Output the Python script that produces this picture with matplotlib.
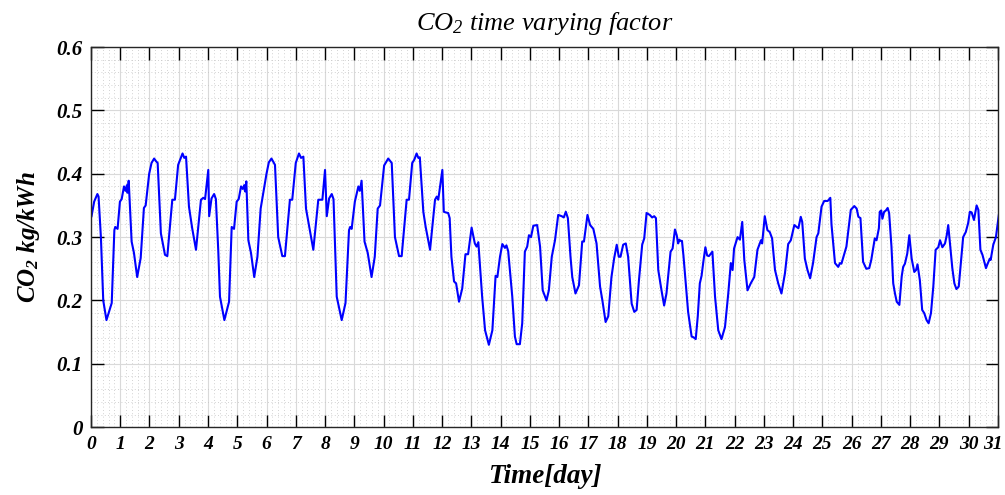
import matplotlib
matplotlib.use("Agg")
from matplotlib import pyplot as plt
from matplotlib.ticker import MultipleLocator
from matplotlib import transforms
import numpy as np

# time in days and CO2 factor in kg/kWh (vertices of the trace)
t_days = [
    0.02, 0.11, 0.22, 0.26, 0.34, 0.42, 0.53, 0.71, 0.80, 0.83, 0.91, 0.99, 1.05, 1.13, 1.18, 1.23, 1.25, 1.29,
    1.39, 1.47, 1.58, 1.70, 1.81, 1.87, 1.99, 2.07, 2.16, 2.22, 2.28, 2.39, 2.53, 2.61, 2.78, 2.87, 2.98, 3.13,
    3.19, 3.25, 3.35, 3.46, 3.59, 3.76, 3.84, 3.90, 4.01, 4.04, 4.12, 4.21, 4.27, 4.35, 4.41, 4.56, 4.72, 4.81,
    4.89, 4.98, 5.05, 5.13, 5.19, 5.24, 5.27, 5.31, 5.38, 5.47, 5.58, 5.69, 5.80, 6.00, 6.08, 6.17, 6.29, 6.40,
    6.54, 6.63, 6.80, 6.88, 7.00, 7.11, 7.18, 7.26, 7.35, 7.46, 7.60, 7.77, 7.91, 8.00, 8.06, 8.14, 8.23, 8.29,
    8.40, 8.57, 8.70, 8.82, 8.86, 8.91, 9.02, 9.14, 9.19, 9.25, 9.35, 9.46, 9.59, 9.70, 9.80, 9.88, 10.02, 10.16,
    10.28, 10.39, 10.53, 10.62, 10.79, 10.87, 10.98, 11.05, 11.13, 11.19, 11.24, 11.36, 11.44, 11.59, 11.76,
    11.82, 11.87, 12.01, 12.06, 12.12, 12.21, 12.26, 12.32, 12.41, 12.48, 12.58, 12.69, 12.80, 12.89, 13.01,
    13.12, 13.18, 13.24, 13.37, 13.47, 13.60, 13.72, 13.83, 13.89, 13.98, 14.06, 14.15, 14.20, 14.26, 14.40,
    14.49, 14.55, 14.66, 14.74, 14.83, 14.91, 14.97, 15.04, 15.12, 15.25, 15.35, 15.44, 15.57, 15.65, 15.75,
    15.86, 15.97, 16.09, 16.16, 16.23, 16.30, 16.39, 16.45, 16.56, 16.68, 16.79, 16.85, 16.97, 17.06, 17.17,
    17.28, 17.40, 17.48, 17.59, 17.68, 17.79, 17.88, 17.97, 18.04, 18.10, 18.19, 18.28, 18.36, 18.48, 18.57,
    18.65, 18.73, 18.84, 18.91, 18.99, 19.10, 19.18, 19.25, 19.31, 19.39, 19.50, 19.59, 19.67, 19.81, 19.88,
    19.96, 20.02, 20.07, 20.11, 20.15, 20.20, 20.25, 20.41, 20.53, 20.59, 20.67, 20.74, 20.81, 20.87, 20.93,
    21.00, 21.06, 21.12, 21.24, 21.33, 21.44, 21.55, 21.67, 21.78, 21.87, 21.93, 21.98, 22.10, 22.18, 22.26,
    22.33, 22.44, 22.55, 22.67, 22.78, 22.90, 22.94, 23.03, 23.12, 23.20, 23.28, 23.38, 23.49, 23.60, 23.72,
    23.83, 23.92, 24.04, 24.12, 24.18, 24.26, 24.31, 24.40, 24.49, 24.58, 24.68, 24.80, 24.86, 24.97, 25.06,
    25.18, 25.27, 25.31, 25.43, 25.54, 25.60, 25.65, 25.82, 25.97, 26.09, 26.17, 26.23, 26.30, 26.39, 26.50,
    26.60, 26.67, 26.79, 26.85, 26.93, 26.96, 27.01, 27.05, 27.11, 27.17, 27.23, 27.28, 27.36, 27.42, 27.48,
    27.54, 27.63, 27.71, 27.76, 27.82, 27.90, 27.97, 28.05, 28.14, 28.20, 28.25, 28.33, 28.41, 28.48, 28.56,
    28.63, 28.71, 28.79, 28.87, 28.96, 29.02, 29.10, 29.19, 29.25, 29.30, 29.36, 29.44, 29.51, 29.58, 29.66,
    29.73, 29.81, 29.90, 29.98, 30.04, 30.10, 30.18, 30.27, 30.33, 30.40, 30.47, 30.59, 30.63, 30.72, 30.75,
    30.84, 30.93, 31.03,
]
co2_factor = [
    0.333, 0.356, 0.368, 0.364, 0.300, 0.200, 0.169, 0.196, 0.311, 0.316, 0.313, 0.356, 0.360, 0.380, 0.373, 0.382, 0.370, 0.389,
    0.293, 0.275, 0.237, 0.267, 0.346, 0.350, 0.400, 0.417, 0.424, 0.420, 0.417, 0.306, 0.272, 0.270, 0.359, 0.359, 0.414, 0.432,
    0.425, 0.427, 0.348, 0.314, 0.280, 0.359, 0.362, 0.360, 0.406, 0.333, 0.361, 0.368, 0.360, 0.280, 0.206, 0.169, 0.198, 0.316,
    0.313, 0.356, 0.360, 0.380, 0.376, 0.382, 0.372, 0.388, 0.295, 0.275, 0.237, 0.269, 0.345, 0.400, 0.418, 0.424, 0.414, 0.300,
    0.270, 0.270, 0.359, 0.359, 0.417, 0.432, 0.425, 0.427, 0.345, 0.316, 0.280, 0.359, 0.359, 0.406, 0.333, 0.361, 0.368, 0.360,
    0.206, 0.169, 0.196, 0.311, 0.316, 0.313, 0.356, 0.380, 0.373, 0.389, 0.293, 0.275, 0.237, 0.269, 0.345, 0.350, 0.413, 0.424,
    0.417, 0.300, 0.270, 0.270, 0.359, 0.359, 0.417, 0.422, 0.432, 0.425, 0.426, 0.340, 0.316, 0.280, 0.359,
    0.364, 0.359, 0.406, 0.340, 0.339, 0.338, 0.330, 0.269, 0.230, 0.227, 0.198, 0.219, 0.273, 0.273, 0.315,
    0.290, 0.285, 0.292, 0.206, 0.153, 0.130, 0.153, 0.239, 0.237, 0.269, 0.289, 0.283, 0.287, 0.278, 0.206,
    0.143, 0.131, 0.131, 0.164, 0.277, 0.285, 0.303, 0.300, 0.318, 0.319, 0.285, 0.216, 0.200, 0.216, 0.269,
    0.295, 0.335, 0.333, 0.331, 0.340, 0.330, 0.269, 0.237, 0.211, 0.224, 0.293, 0.293, 0.335, 0.319, 0.313,
    0.290, 0.222, 0.200, 0.166, 0.175, 0.237, 0.266, 0.288, 0.269, 0.269, 0.288, 0.290, 0.269, 0.195, 0.182,
    0.185, 0.232, 0.288, 0.298, 0.338, 0.335, 0.331, 0.333, 0.330, 0.248, 0.216, 0.192, 0.211, 0.277, 0.282,
    0.312, 0.303, 0.290, 0.296, 0.294, 0.294, 0.271, 0.182, 0.143, 0.142, 0.139, 0.175, 0.227, 0.239, 0.261,
    0.284, 0.271, 0.270, 0.277, 0.206, 0.153, 0.139, 0.158, 0.210, 0.259, 0.248, 0.282, 0.300, 0.296, 0.324,
    0.264, 0.216, 0.227, 0.237, 0.280, 0.295, 0.290, 0.333, 0.311, 0.308, 0.298, 0.248, 0.227, 0.211, 0.243,
    0.289, 0.295, 0.319, 0.316, 0.314, 0.332, 0.324, 0.266, 0.248, 0.235, 0.259, 0.300, 0.306, 0.348, 0.357,
    0.357, 0.362, 0.320, 0.259, 0.253, 0.259, 0.258, 0.285, 0.343, 0.349, 0.345, 0.332, 0.330, 0.261, 0.250,
    0.251, 0.264, 0.298, 0.295, 0.314, 0.340, 0.342, 0.329, 0.340, 0.342, 0.346, 0.338, 0.285, 0.227, 0.211,
    0.198, 0.193, 0.238, 0.253, 0.258, 0.274, 0.303, 0.266, 0.245, 0.248, 0.257, 0.232, 0.185, 0.180, 0.169,
    0.164, 0.180, 0.222, 0.280, 0.284, 0.295, 0.284, 0.290, 0.303, 0.319, 0.290, 0.251, 0.227, 0.218, 0.222,
    0.259, 0.300, 0.308, 0.322, 0.340, 0.339, 0.327, 0.350, 0.343, 0.280, 0.272, 0.251, 0.256, 0.266, 0.264,
    0.288, 0.300, 0.335,
]

x_ticks = np.arange(0, 32, 1)
y_ticks = [0, 0.1, 0.2, 0.3, 0.4, 0.5, 0.6]
y_tick_labels = ['0', '0.1', '0.2', '0.3', '0.4', '0.5', '0.6']

plt.rcParams['font.family'] = ['Liberation Serif', 'DejaVu Serif']
plt.rcParams['mathtext.fontset'] = 'custom'
plt.rcParams['mathtext.rm'] = 'Liberation Serif:italic'
plt.rcParams['mathtext.it'] = 'Liberation Serif:italic'
plt.rcParams['mathtext.bf'] = 'Liberation Serif:italic:bold'

fig = plt.figure(figsize=(10.05, 4.95), dpi=100)
ax = fig.add_axes([0.0905, 0.137, 0.9025, 0.768])

ax.plot(t_days, co2_factor, color='#0000ff', linewidth=1.5)

ax.set_xlim(0, 31)
ax.set_ylim(0, 0.6)
ax.set_xticks(x_ticks)
ax.set_yticks(y_ticks)
ax.set_yticklabels(y_tick_labels)
ax.xaxis.set_minor_locator(MultipleLocator(0.2))
ax.yaxis.set_minor_locator(MultipleLocator(0.02))

ax.grid(which='major', color='#d9d9d9', linewidth=0.8, linestyle='-')
ax.grid(which='minor', color='#c4c4c4', linewidth=0.6, linestyle=(0, (1, 3)))
ax.set_axisbelow(True)

ax.tick_params(which='major', direction='in', length=9, width=1.0,
               top=True, right=True, labelsize=14, pad=6)
ax.tick_params(axis='y', which='major', labelsize=15)
ax.tick_params(which='minor', length=0)
for lab in ax.get_xticklabels() + ax.get_yticklabels():
    lab.set_fontstyle('italic')
    lab.set_fontweight('bold')

# keep the last day label inside the figure
last = ax.get_xticklabels()[-1]
last.set_transform(last.get_transform() + transforms.ScaledTranslation(-5 / 100, 0, fig.dpi_scale_trans))

for sp in ax.spines.values():
    sp.set_linewidth(1.0)
    sp.set_color('#262626')

ax.set_title(r'CO$_2$ time varying factor', fontsize=19, style='italic', pad=12)
ax.set_xlabel('Time[day]', fontsize=19.5, style='italic', fontweight='bold', labelpad=8)
ax.set_ylabel(r'CO$_\mathbf{2}$ kg/kWh', fontsize=18, style='italic', fontweight='bold', labelpad=10)

fig.savefig('out.png', dpi=100)
